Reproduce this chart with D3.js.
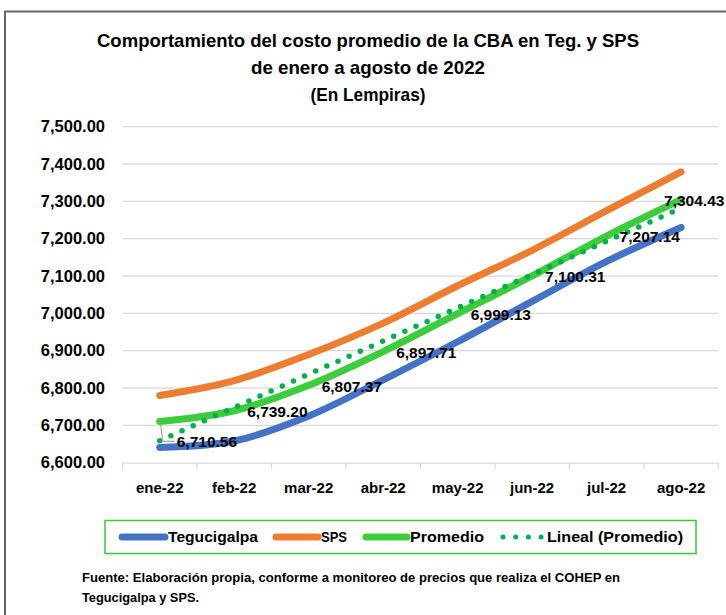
<!DOCTYPE html>
<html>
<head>
<meta charset="utf-8">
<script src="https://cdn.jsdelivr.net/npm/d3@7"></script>
<style>
  body { margin: 0; background: #fff; }
  svg text { font-family: "Liberation Sans", Arial, sans-serif; font-weight: bold; fill: #000; }
</style>
</head>
<body>
<div id="chart"></div>
<script>
// --- Data ---
const months = ["ene-22", "feb-22", "mar-22", "abr-22", "may-22", "jun-22", "jul-22", "ago-22"];
const tegucigalpa = [6641, 6658, 6725, 6822, 6924, 7032, 7139, 7230];
const sps = [6780, 6820, 6890, 6974, 7074, 7169, 7275, 7379];
const promedio = [6710.56, 6739.20, 6807.37, 6897.71, 6999.13, 7100.31, 7207.14, 7304.43];
const trendEnds = [6659, 7282]; // linear trend at ene-22 and ago-22
const yTicks = [6600, 6700, 6800, 6900, 7000, 7100, 7200, 7300, 7400, 7500];

const W = 726, H = 615;
const plot = {left: 122.5, right: 718.3, top: 126.7, bottom: 462.7};

const svg = d3.select("#chart").append("svg")
    .attr("width", W).attr("height", H);

svg.append("rect").attr("width", W).attr("height", H).attr("fill", "#fff");

// outer frame (only top and left visible)
svg.append("path")
    .attr("d", `M5,${H} L5,11.5 L${W},11.5`)
    .attr("fill", "none").attr("stroke", "#666").attr("stroke-width", 2);

// --- Titles ---
const titles = [
  {t: "Comportamiento del costo promedio de la CBA en Teg. y SPS", y: 47, w: 542},
  {t: "de enero a agosto de 2022", y: 74, w: 234},
  {t: "(En Lempiras)", y: 101, w: 115}
];
svg.selectAll("text.title").data(titles).enter().append("text")
    .attr("class", "title")
    .attr("x", 368).attr("y", d => d.y)
    .attr("text-anchor", "middle")
    .style("font-size", "19px")
    .attr("textLength", d => d.w).attr("lengthAdjust", "spacingAndGlyphs")
    .text(d => d.t);

// --- Scales ---
const x = d3.scaleBand().domain(months).range([plot.left, plot.right]);
const xc = m => x(m) + x.bandwidth() / 2;
const y = d3.scaleLinear().domain([6600, 7500]).range([plot.bottom, plot.top]);

// gridlines
svg.append("g").selectAll("line").data(yTicks.slice(1)).enter().append("line")
    .attr("x1", plot.left).attr("x2", plot.right)
    .attr("y1", d => y(d)).attr("y2", d => y(d))
    .attr("stroke", "#d9d9d9").attr("stroke-width", 1.3);

// y axis labels
svg.append("g").selectAll("text").data(yTicks).enter().append("text")
    .attr("x", 105).attr("y", d => y(d)).attr("dy", "0.35em")
    .attr("text-anchor", "end").style("font-size", "16.5px")
    .text(d => d3.format(",.2f")(d));

// x axis
const xAxis = svg.append("g").attr("transform", `translate(0,${plot.bottom})`)
    .call(d3.axisBottom(x).tickSize(0).tickSizeOuter(0).tickPadding(20));
xAxis.select(".domain").attr("stroke", "#d9d9d9").attr("stroke-width", 1.3);
xAxis.selectAll("text").style("font-size", "15px").style("font-family", "Liberation Sans, Arial, sans-serif")
    .style("font-weight", "bold").attr("fill", "#000");
const bounds = months.map(m => x(m)).concat([plot.right]);
svg.append("g").selectAll("line").data(bounds).enter().append("line")
    .attr("x1", d => d).attr("x2", d => d)
    .attr("y1", plot.bottom).attr("y2", plot.bottom + 6)
    .attr("stroke", "#d9d9d9").attr("stroke-width", 1.3);

// --- Lines ---
const line = d3.line().x((d, i) => xc(months[i])).y(d => y(d)).curve(d3.curveCatmullRom.alpha(0.5));
const series = [
  {name: "Tegucigalpa", values: tegucigalpa, color: "#4472c4"},
  {name: "SPS", values: sps, color: "#ed7d31"},
  {name: "Promedio", values: promedio, color: "#3ccc3c"}
];
svg.append("g").selectAll("path").data(series).enter().append("path")
    .attr("d", d => line(d.values))
    .attr("fill", "none").attr("stroke", d => d.color)
    .attr("stroke-width", 7).attr("stroke-linecap", "round").attr("stroke-linejoin", "round");

// linear trend of promedio
svg.append("line")
    .attr("x1", xc(months[0])).attr("y1", y(trendEnds[0]))
    .attr("x2", xc(months[months.length - 1])).attr("y2", y(trendEnds[1]))
    .attr("stroke", "#00b050").attr("stroke-width", 5.5)
    .attr("stroke-linecap", "round").attr("stroke-dasharray", "0 12.2");

// leader line for first label
svg.append("path")
    .attr("d", `M${xc(months[0]) + 1},${y(promedio[0]) + 3} L${xc(months[0]) + 3},${y(promedio[0]) + 20} L${xc(months[0]) + 15},${y(promedio[0]) + 20}`)
    .attr("fill", "none").attr("stroke", "#a6a6a6").attr("stroke-width", 1.2);

// data labels for promedio
svg.append("g").selectAll("text").data(promedio).enter().append("text")
    .attr("x", (d, i) => xc(months[i]) + (i === 0 ? 17 : i === promedio.length - 1 ? -17 : 13))
    .attr("y", (d, i) => y(d) + (i === 0 ? 20 : 1))
    .attr("dy", "0.35em").style("font-size", "15.5px")
    .text(d => d3.format(",.2f")(d));

// --- Legend ---
svg.append("rect").attr("x", 105).attr("y", 520.5).attr("width", 591).attr("height", 33)
    .attr("fill", "none").attr("stroke", "#33cc33").attr("stroke-width", 1.5);
const legendY = 537;
const legendItems = [
  {name: "Tegucigalpa", color: "#4472c4", x0: 122, x1: 165, tx: 168, w: 90},
  {name: "SPS", color: "#ed7d31", x0: 276, x1: 318, tx: 321, w: 26},
  {name: "Promedio", color: "#3ccc3c", x0: 366, x1: 407, tx: 410, w: 74},
  {name: "Lineal (Promedio)", color: "#00b050", x0: 503, x1: 542, tx: 547, w: 136, dotted: true}
];
const lg = svg.append("g").selectAll("g").data(legendItems).enter().append("g");
lg.append("line")
    .attr("x1", d => d.x0).attr("x2", d => d.x1).attr("y1", legendY).attr("y2", legendY)
    .attr("stroke", d => d.color).attr("stroke-width", d => d.dotted ? 5 : 7)
    .attr("stroke-linecap", "round")
    .attr("stroke-dasharray", d => d.dotted ? "0 12.7" : null);
lg.append("text")
    .attr("x", d => d.tx).attr("y", legendY).attr("dy", "0.35em")
    .style("font-size", "15.5px")
    .attr("textLength", d => d.w).attr("lengthAdjust", "spacingAndGlyphs")
    .text(d => d.name);

// --- Footer ---
svg.append("text").attr("x", 82).attr("y", 582).style("font-size", "12px")
    .attr("textLength", 538).attr("lengthAdjust", "spacingAndGlyphs")
    .text("Fuente: Elaboración propia, conforme a monitoreo de precios que realiza el COHEP en");
svg.append("text").attr("x", 82).attr("y", 602).style("font-size", "12px")
    .attr("textLength", 117).attr("lengthAdjust", "spacingAndGlyphs")
    .text("Tegucigalpa y SPS.");
</script>
</body>
</html>
